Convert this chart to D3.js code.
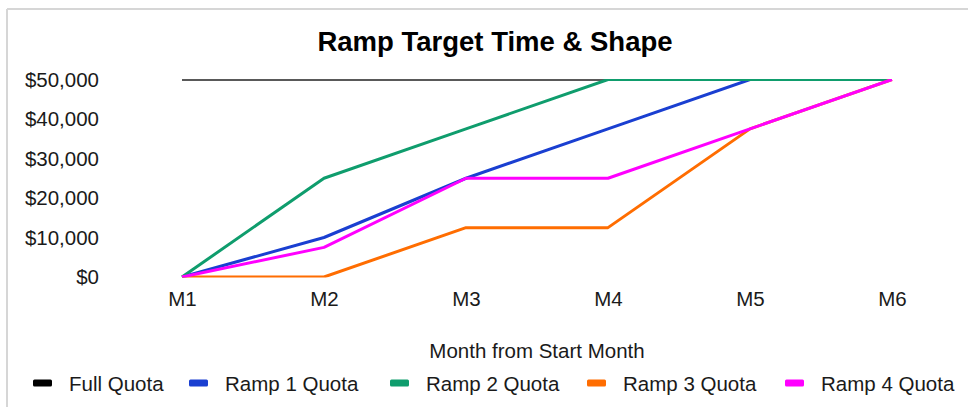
<!DOCTYPE html>
<html>
<head>
<meta charset="utf-8">
<script src="https://cdn.jsdelivr.net/npm/d3@7"></script>
<style>
  html, body { margin: 0; padding: 0; background: #fff; }
  svg { display: block; font-family: "Liberation Sans", Arial, sans-serif; }
</style>
</head>
<body>
<svg id="chart" width="968" height="407"></svg>
<script>
// Ramp quota schedules by month since start
const months = ["M1", "M2", "M3", "M4", "M5", "M6"];
const seriesNames = ["Full Quota", "Ramp 1 Quota", "Ramp 2 Quota", "Ramp 3 Quota", "Ramp 4 Quota"];
const fullQuota  = [50000, 50000, 50000, 50000, 50000, 50000];
const ramp1Quota = [0, 10000, 25000, 37500, 50000, 50000];
const ramp2Quota = [0, 25000, 37500, 50000, 50000, 50000];
const ramp3Quota = [0, 0, 12500, 12500, 37500, 50000];
const ramp4Quota = [0, 7500, 25000, 25000, 37500, 50000];
const yTicks = [0, 10000, 20000, 30000, 40000, 50000];
const colors = ["#000000", "#1a3fd1", "#0f9d6d", "#ff6d01", "#ff00ff"];

const seriesValues = [fullQuota, ramp1Quota, ramp2Quota, ramp3Quota, ramp4Quota];

const svg = d3.select("#chart");

// frame edges
svg.append("line").attr("x1", 7).attr("x2", 968).attr("y1", 9).attr("y2", 9)
  .attr("stroke", "#d6d6d6").attr("stroke-width", 2);
svg.append("line").attr("x1", 7).attr("x2", 7).attr("y1", 9).attr("y2", 407)
  .attr("stroke", "#d6d6d6").attr("stroke-width", 2);

const x = d3.scalePoint().domain(months).range([182, 892]);
const y = d3.scaleLinear().domain([0, 50000]).range([277, 79.5]);

// title
svg.append("text")
  .attr("x", 495).attr("y", 51)
  .attr("text-anchor", "middle")
  .attr("font-size", 27.5).attr("font-weight", "bold").attr("fill", "#000")
  .text("Ramp Target Time & Shape");

// y axis labels
const yAxis = d3.axisLeft(y).tickValues(yTicks).tickSize(0).tickPadding(0)
  .tickFormat(d => "$" + d3.format(",")(d));
const gy = svg.append("g").attr("transform", "translate(99,0)").call(yAxis);
gy.select(".domain").remove();
gy.selectAll("text").attr("font-size", 20.5).attr("fill", "#1a1a1a")
  .attr("font-family", "Liberation Sans, Arial, sans-serif");

// x axis labels
const xAxis = d3.axisBottom(x).tickSize(0).tickPadding(0);
const gx = svg.append("g").attr("transform", "translate(0,291)").call(xAxis);
gx.select(".domain").remove();
gx.selectAll("text").attr("font-size", 20.5).attr("fill", "#1a1a1a")
  .attr("font-family", "Liberation Sans, Arial, sans-serif");

// axis title
svg.append("text")
  .attr("x", 537).attr("y", 358)
  .attr("text-anchor", "middle")
  .attr("font-size", 20.5).attr("fill", "#1a1a1a")
  .text("Month from Start Month");

// plot-area clip: lines lying on the top or bottom value are partly hidden
svg.append("clipPath").attr("id", "plotClip")
  .append("rect").attr("x", 0).attr("y", y(50000) - 0.5)
  .attr("width", 968).attr("height", y(0) - y(50000) + 1);

const line = d3.line()
  .x((d, i) => x(months[i]))
  .y(d => y(d));

const plot = svg.append("g").attr("clip-path", "url(#plotClip)");
seriesValues.forEach((vals, k) => {
  plot.append("path")
    .datum(vals)
    .attr("d", line)
    .attr("fill", "none")
    .attr("stroke", colors[k])
    .attr("stroke-opacity", k === 0 ? 0.65 : 1)
    .attr("stroke-width", 3)
    .attr("stroke-linejoin", "round");
});

// legend
const legendX = [33, 189, 390, 587, 785];
const legend = svg.append("g");
seriesNames.forEach((name, k) => {
  const g = legend.append("g").attr("transform", `translate(${legendX[k]},383)`);
  g.append("rect").attr("x", 0).attr("y", -3.5).attr("width", 19).attr("height", 7)
    .attr("rx", 1.5).attr("fill", colors[k]);
  g.append("text").attr("x", 36).attr("y", 7.5)
    .attr("font-size", 20.5).attr("fill", "#1a1a1a").text(name);
});
</script>
</body>
</html>
